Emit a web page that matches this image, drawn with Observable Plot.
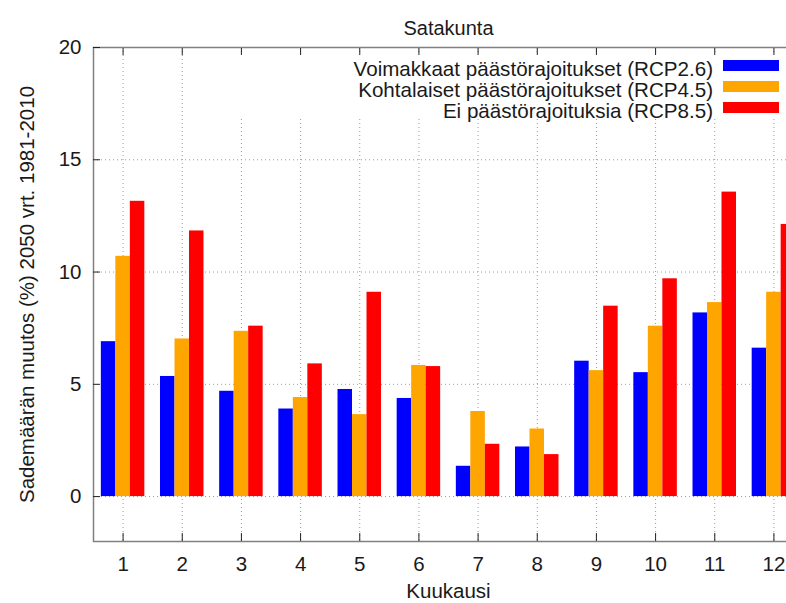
<!DOCTYPE html>
<html><head><meta charset="utf-8">
<script src="https://cdn.jsdelivr.net/npm/d3@7"></script>
<script src="https://cdn.jsdelivr.net/npm/@observablehq/plot@0.6"></script>
<style>
body{margin:0;background:#fff;overflow:hidden;font-family:"Liberation Sans",Arial,sans-serif;}
#wrap{position:relative;width:786px;height:603px;overflow:hidden;}
#legend{position:absolute;left:210px;top:55px;width:576px;height:61px;background:#fff;}
.lt{position:absolute;right:73px;height:21px;line-height:21px;font-size:20.6px;color:#1a1a1a;white-space:nowrap;text-align:right;}
.sw{position:absolute;left:513px;width:56px;height:11px;}
</style></head><body><div id="wrap"></div>
<script>
const title = "Satakunta";
const xLabel = "Kuukausi";
const yLabel = "Sademäärän muutos (%) 2050 vrt. 1981-2010";
const months = [1, 2, 3, 4, 5, 6, 7, 8, 9, 10, 11, 12];
const yTicks = [0, 5, 10, 15, 20];
const seriesNames = [
  "Voimakkaat päästörajoitukset (RCP2.6)",
  "Kohtalaiset päästörajoitukset (RCP4.5)",
  "Ei päästörajoituksia (RCP8.5)"
];
const seriesColors = ["#0000ff", "#ffa500", "#ff0000"];
const rcp26 = [6.9, 5.35, 4.69, 3.9, 4.77, 4.37, 1.35, 2.21, 6.03, 5.52, 8.18, 6.61];
const rcp45 = [10.7, 7.02, 7.36, 4.41, 3.65, 5.84, 3.79, 3.01, 5.61, 7.59, 8.64, 9.1];
const rcp85 = [13.15, 11.83, 7.59, 5.91, 9.1, 5.79, 2.33, 1.87, 8.48, 9.7, 13.56, 12.12];

const seriesValues = [rcp26, rcp45, rcp85];
const data = months.flatMap((m, i) => seriesValues.map((arr, s) => ({month: m, s, series: seriesNames[s], value: arr[i]})));
const barW = 0.245;

const plot = Plot.plot({
  width: 786, height: 603,
  marginLeft: 93, marginRight: -17, marginTop: 47, marginBottom: 62,
  style: {fontFamily: '"Liberation Sans", Arial, sans-serif', fontSize: "20.5px", color: "#1a1a1a", background: "#fff"},
  x: {domain: [0.5, 12.5]},
  y: {domain: [-2, 20]},
  color: {domain: seriesNames, range: seriesColors},
  marks: [
    Plot.gridX(months, {stroke: "#9a9a9a", strokeOpacity: 1, strokeDasharray: "1,3"}),
    Plot.gridY(yTicks.filter(t => t < 20), {stroke: "#9a9a9a", strokeOpacity: 1, strokeDasharray: "1,3"}),
    Plot.rectY(data, {
      x1: d => d.month + (d.s - 1) * barW - barW / 2,
      x2: d => d.month + (d.s - 1) * barW + barW / 2,
      y1: 0, y2: "value", fill: "series"
    }),
    Plot.frame({stroke: "#808080", strokeWidth: 1.5}),
    Plot.axisX(months, {anchor: "bottom", tickSize: 8, dy: -8, text: null, label: null, stroke: "#222"}),
    Plot.axisX(months, {anchor: "top", tickSize: 7, dy: 7, text: null, label: null, stroke: "#222"}),
    Plot.axisY(yTicks, {anchor: "left", tickSize: 7, dx: 7, text: null, label: null, stroke: "#222"}),
    Plot.axisX(months, {anchor: "bottom", tickSize: 0, tickPadding: 15, label: null}),
    Plot.axisY(yTicks, {anchor: "left", tickSize: 0, tickPadding: 12, label: yLabel, labelAnchor: "center", labelOffset: 74, labelArrow: "none"}),
    Plot.text([xLabel], {frameAnchor: "bottom", dy: 56, fontSize: 20.5}),
    Plot.text([title], {frameAnchor: "top", dy: -27, fontSize: 20})
  ]
});
const wrap = document.getElementById("wrap");
wrap.appendChild(plot);

const legend = document.createElement("div");
legend.id = "legend";
seriesNames.forEach((name, i) => {
  const t = document.createElement("div");
  t.className = "lt";
  t.style.top = (2.6 + i * 21) + "px";
  t.textContent = name;
  legend.appendChild(t);
  const sw = document.createElement("div");
  sw.className = "sw";
  sw.style.top = (5 + i * 21) + "px";
  sw.style.background = seriesColors[i];
  legend.appendChild(sw);
});
wrap.appendChild(legend);
</script>
</body></html>
